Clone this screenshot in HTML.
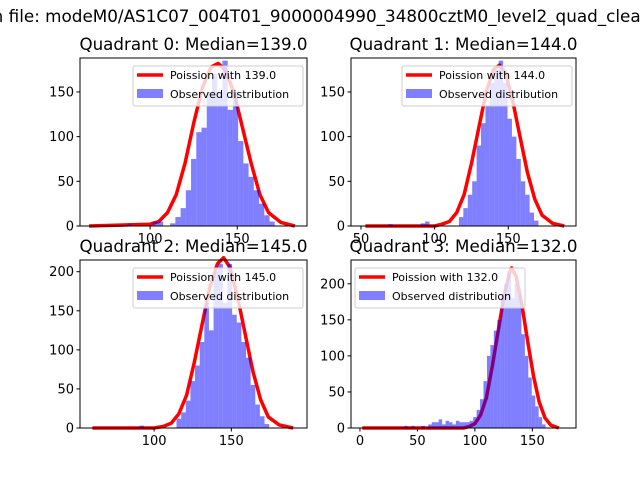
<!DOCTYPE html>
<html><head><meta charset="utf-8">
<style>
html,body{margin:0;padding:0;background:#fff;}
svg{display:block;font-family:"DejaVu Sans","Liberation Sans",sans-serif;}
</style></head>
<body>
<svg id="fig" width="640" height="480" viewBox="0 0 640 480">
<text x="-12" y="22" font-size="16.8" fill="#000">in file: modeM0/AS1C07_004T01_9000004990_34800cztM0_level2_quad_clean.evt</text>
</svg>
<script>
// ---- data ----
const titles = ["Quadrant 0: Median=139.0","Quadrant 1: Median=144.0","Quadrant 2: Median=145.0","Quadrant 3: Median=132.0"];
const medians = [139.0,144.0,145.0,132.0];
const binWidth = 3;
const q0BinCenters = [88,103,106,113,116,119,122,125,128,131,134,137,140,143,146,149,152,155,158,161,164,167,170];
const q0Counts     = [2,5,5,3,10,20,40,75,105,110,150,170,150,185,130,150,95,70,55,40,25,12,5];
const q1BinCenters = [70,92,95,118,121,124,127,130,133,136,139,142,145,148,151,154,157,160,163,166,169];
const q1Counts     = [2,3,5,10,20,35,50,90,115,135,160,175,185,160,120,100,75,50,35,15,6];
const q2BinCenters = [92,116,119,122,125,128,131,134,137,140,143,146,149,152,155,158,161,164,167,170,173];
const q2Counts     = [3,12,20,35,60,80,110,160,125,200,210,160,210,145,135,110,90,55,30,15,5];
const q3BinCenters = [40,46,55,61,64,67,70,73,76,79,82,85,88,91,94,97,100,103,106,109,112,115,118,121,124,127,130,133,136,139,142,145,148,151,154,157,160];
const q3Counts     = [3,3,3,5,8,8,12,5,10,8,5,10,8,8,8,10,15,25,40,65,100,115,135,150,185,200,215,180,200,185,130,100,70,45,30,15,5];
const q0CurveX = [65,100,105,110,115,120,125,130,135,139,143,148,153,158,163,168,175,183];
const q0CurveY = [0,2,5,15,35,70,115,155,178,182,175,150,110,70,35,15,4,0];
const q1CurveX = [53,100,105,110,115,120,125,130,135,140,144,148,153,158,163,168,173,180,188];
const q1CurveY = [0,0,2,5,15,35,70,110,150,175,180,172,140,100,60,30,12,3,0];
const q2CurveX = [60,100,106,111,116,121,126,131,136,141,145,149,154,159,164,169,174,181,190];
const q2CurveY = [0,0,2,6,18,42,84,132,180,210,218,206,168,120,72,36,14,4,0];
const q3CurveX = [2,90,95,100,105,110,115,120,125,130,132,136,141,146,151,156,161,166,173];
const q3CurveY = [0,0,2,6,18,42,84,132,180,215,222,210,170,120,72,36,14,4,0];
const xTicks = [[100,150],[50,100,150],[100,150],[0,50,100,150]];
const yTicks = [[0,50,100,150],[0,50,100,150],[0,50,100,150,200],[0,50,100,150,200]];

// ---- layout ----
const panels = [
 {l:80,r:307,t:58,b:226,xmin:59.8,xmax:190,ymax:188,bx:q0BinCenters,bc:q0Counts,cx:q0CurveX,cy:q0CurveY,leg:'right'},
 {l:351,r:576,t:58,b:226,xmin:43.2,xmax:196,ymax:188,bx:q1BinCenters,bc:q1Counts,cx:q1CurveX,cy:q1CurveY,leg:'right'},
 {l:80,r:307,t:260,b:428,xmin:52,xmax:199,ymax:215,bx:q2BinCenters,bc:q2Counts,cx:q2CurveX,cy:q2CurveY,leg:'right'},
 {l:351,r:576,t:260,b:428,xmin:-7.8,xmax:188,ymax:233,bx:q3BinCenters,bc:q3Counts,cx:q3CurveX,cy:q3CurveY,leg:'left'}
];
const NS="http://www.w3.org/2000/svg";
const svg=document.getElementById('fig');
function mk(tag,attrs,parent){const e=document.createElementNS(NS,tag);for(const k in attrs)e.setAttribute(k,attrs[k]);(parent||svg).appendChild(e);return e;}

panels.forEach((p,i)=>{
  const g=mk('g',{});
  
  
  const xs=v=>p.l+(v-p.xmin)/(p.xmax-p.xmin)*(p.r-p.l);
  const ys=v=>p.b-v/p.ymax*(p.b-p.t);
  const t=mk('text',{x:(p.l+p.r)/2,y:p.t-8,'font-size':16.7,'text-anchor':'middle'},g);
  t.textContent=titles[i];
  
  
  const pts=p.cx.map((x,j)=>xs(x).toFixed(1)+','+ys(p.cy[j]).toFixed(1)).join(' ');
  const line=mk('polyline',{points:pts,fill:'none',stroke:'#ff0000','stroke-width':3.5,'stroke-linejoin':'round'},g);
  
  
  p.bx.forEach((c,j)=>{
    const x0=xs(c-binWidth/2),x1=xs(c+binWidth/2);
    const r=mk('rect',{x:x0,y:ys(p.bc[j]),width:x1-x0,height:ys(0)-ys(p.bc[j]),fill:'rgba(0,0,255,0.5)'},g);
    
    
  });
  const fr=mk('rect',{x:p.l,y:p.t,width:p.r-p.l,height:p.b-p.t,fill:'none',stroke:'#000','stroke-width':1},g);
  
  
  xTicks[i].forEach(v=>{
    const x=xs(v);
    mk('line',{x1:x,x2:x,y1:p.b,y2:p.b+3.5,stroke:'#000'},g);
    const tl=mk('text',{x:x,y:p.b+17,'font-size':13,'text-anchor':'middle'},g);
    tl.textContent=v;
    
    
  });
  yTicks[i].forEach(v=>{
    const y=ys(v);
    mk('line',{x1:p.l-3.5,x2:p.l,y1:y,y2:y,stroke:'#000'},g);
    const tl=mk('text',{x:p.l-6,y:y+4.5,'font-size':13,'text-anchor':'end'},g);
    tl.textContent=v;
    
    
  });
  const lw=170,lh=40;
  const lx=p.leg==='right'?p.r-lw-4:p.l+4, ly=p.t+8;
  const lg=mk('g',{},g);
  
  
  mk('rect',{x:lx,y:ly,width:lw,height:lh,rx:2,fill:'rgba(255,255,255,0.8)',stroke:'#ccc'},lg);
  mk('line',{x1:lx+4,x2:lx+30,y1:ly+9,y2:ly+9,stroke:'#ff0000','stroke-width':3.5},lg);
  const l1=mk('text',{x:lx+37,y:ly+13,'font-size':11},lg);
  l1.textContent='Poission with '+medians[i].toFixed(1);
  
  
  mk('rect',{x:lx+4,y:ly+23,width:26,height:9,fill:'rgba(0,0,255,0.5)'},lg);
  const l2=mk('text',{x:lx+37,y:ly+32,'font-size':11},lg);
  l2.textContent='Observed distribution';
  
  
});
</script>
</body></html>
